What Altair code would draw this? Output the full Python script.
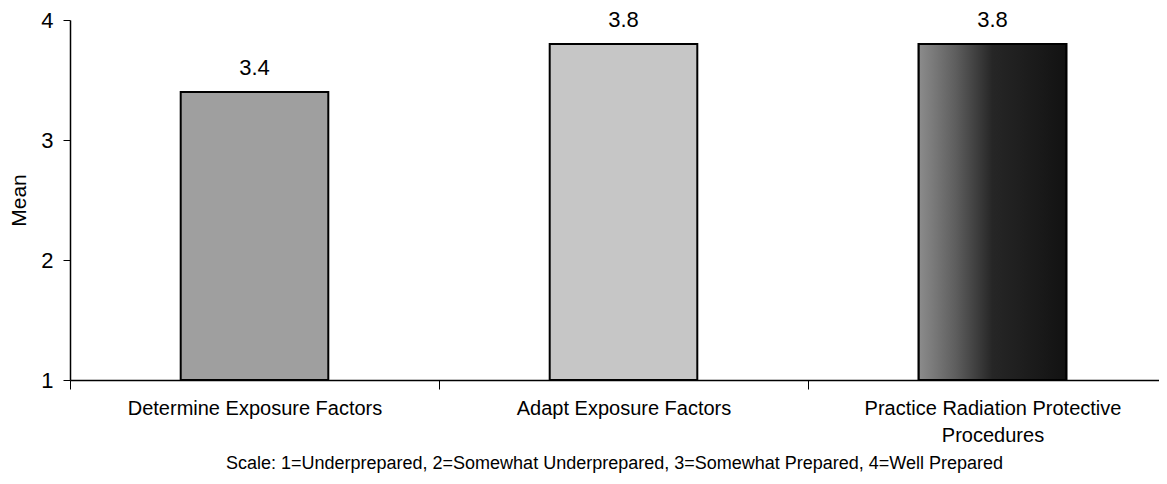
import altair as alt
import pandas as pd

categories = ["Determine Exposure Factors", "Adapt Exposure Factors",
              "Practice Radiation Protective Procedures"]
means = [3.4, 3.8, 3.8]
value_labels = ["3.4", "3.8", "3.8"]
fills = ["#9f9f9f", "#c6c6c6", "#2e2e2e"]
y_ticks = [1, 2, 3, 4]
y_title = "Mean"
caption = "Scale: 1=Underprepared, 2=Somewhat Underprepared, 3=Somewhat Prepared, 4=Well Prepared"

df = pd.DataFrame({"category": categories, "mean": means, "label": value_labels})

FONT = "Liberation Sans, Arial, Helvetica, sans-serif"

x_enc = alt.X(
    "category:N", sort=categories, title=None,
    scale=alt.Scale(range=[0, 1107], paddingInner=0, paddingOuter=0),
    axis=alt.Axis(
        labelAngle=0, tickBand="extent", tickSize=9, labelPadding=9,
        labelFontSize=20, labelFont=FONT, labelColor="black",
        domainColor="black", tickColor="black", domainWidth=1.5,
        labelLineHeight=27, labelLimit=0,
        labelExpr="datum.label == 'Practice Radiation Protective Procedures' ? ['Practice Radiation Protective', 'Procedures'] : datum.label",
    ),
)
y_enc = alt.Y(
    "mean:Q", title=y_title,
    scale=alt.Scale(domain=[1, 4], nice=False, zero=False),
    axis=alt.Axis(
        values=y_ticks, format="d", tickSize=7, labelPadding=10,
        labelFontSize=22, labelFont=FONT, labelColor="black",
        titleFontSize=21, titleFont=FONT, titleFontWeight="normal",
        titleColor="black", titlePadding=11, grid=False,
        domainColor="black", tickColor="black", domainWidth=1.5,
    ),
)

bars = alt.Chart(df).mark_bar(
    width=alt.RelativeBandSize(0.4), stroke="black", strokeWidth=2
).encode(
    x=x_enc, y=y_enc, y2=alt.datum(1),
    color=alt.Color("category:N", scale=alt.Scale(domain=categories, range=fills), legend=None),
)

dark_bar = alt.Chart(df).transform_filter(
    alt.datum.category == categories[2]
).mark_bar(
    width=alt.RelativeBandSize(0.4), stroke="black", strokeWidth=2,
    color=alt.Gradient(
        gradient="linear", x1=0, x2=1, y1=0, y2=0,
        stops=[alt.GradientStop(color="#8c8c8c", offset=0),
               alt.GradientStop(color="#5e5e5e", offset=0.25),
               alt.GradientStop(color="#262626", offset=0.5),
               alt.GradientStop(color="#121212", offset=1)],
    ),
).encode(x=x_enc, y=y_enc, y2=alt.datum(1))

texts = alt.Chart(df).mark_text(
    dy=-17, baseline="alphabetic", fontSize=22, font=FONT, color="black"
).encode(x=x_enc, y=y_enc, text="label:N")

chart = alt.layer(bars, dark_bar, texts).properties(
    width=1089, height=360,
    autosize=alt.AutoSizeParams(type="none"),
    padding={"left": 62, "top": 12, "right": 0, "bottom": 100},
    title=alt.TitleParams(
        caption, orient="bottom", anchor="middle", fontSize=18,
        fontWeight="normal", font=FONT, color="black", offset=10,
    ),
).configure_view(stroke=None)

chart.save("out.html", embed_options={"renderer": "svg", "actions": False})
